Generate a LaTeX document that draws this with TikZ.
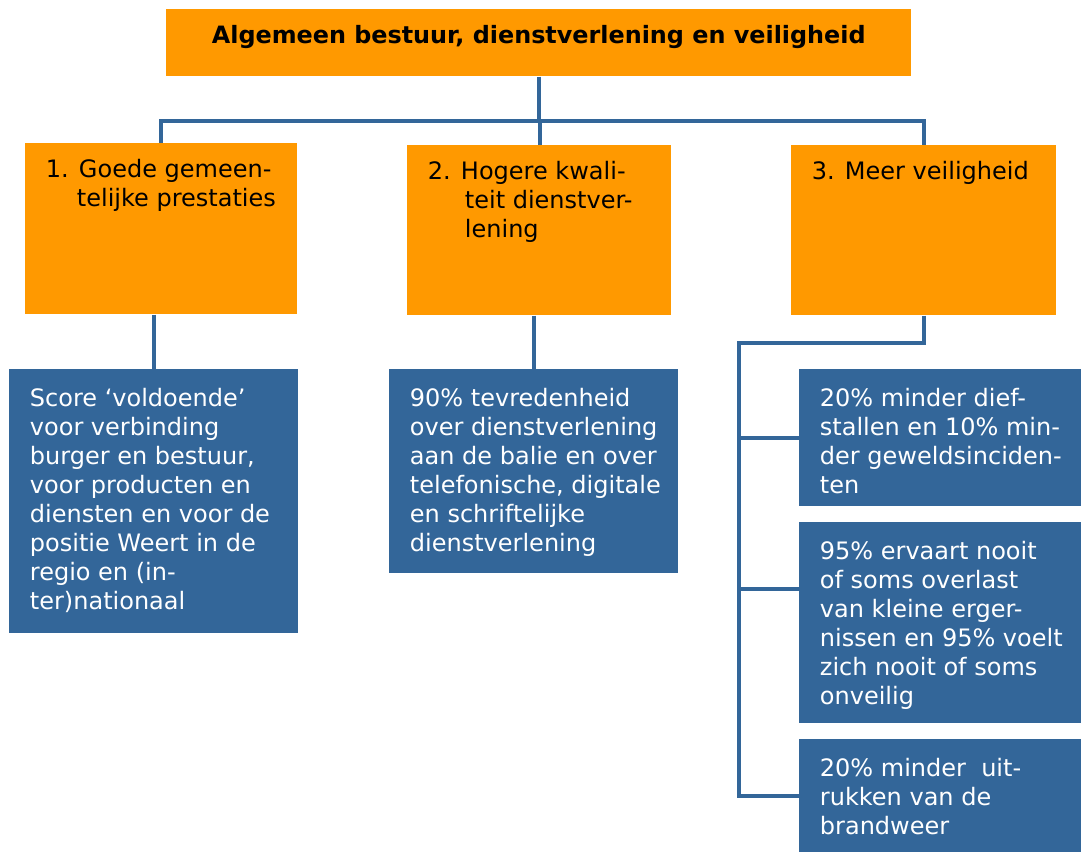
\documentclass[tikz,border=0pt]{standalone}
\usepackage{fontspec}
\setmainfont{DejaVu Sans}
\usetikzlibrary{positioning}

\definecolor{oranje}{HTML}{FF9900}
\definecolor{blauw}{HTML}{336699}

\newcommand{\vak}[3]{\parbox[t][#2][t]{#1}{\raggedright\leftskip=15.5pt #3}}

\tikzset{
  doelbox/.style={fill=oranje, anchor=north west, inner xsep=0pt, inner ysep=11.85pt,
    font=\fontsize{18pt}{21.75pt}\selectfont},
  titelbox/.style={doelbox, inner ysep=11.9pt, font=\fontsize{17.9pt}{20pt}\selectfont\bfseries},
  indbox/.style={fill=blauw, text=white, anchor=north west, inner xsep=0pt, inner ysep=14.1pt,
    font=\fontsize{18pt}{21.75pt}\selectfont},
  lijn/.style={draw=blauw, line width=3pt}
}

\begin{document}
\begin{tikzpicture}[x=0.75pt,y=-0.75pt]
\useasboundingbox (0,0) rectangle (1081,852);

\node[titelbox] (algemeen) at (166,9) {\parbox[t][26.45pt][t]{558.75pt}{\centering Algemeen bestuur, dienstverlening en veiligheid}};

\node[doelbox] (doel1) at (25,143) {\vak{204pt}{104.55pt}{1. Goede gemeen-\\ \hspace*{23.25pt}telijke prestaties}};
\node[doelbox] (doel2) at (407,145) {\vak{198pt}{103.8pt}{2. Hogere kwali-\\ \hspace*{27.75pt}teit dienstver-\\ \hspace*{27.75pt}lening}};
\node[doelbox] (doel3) at (791,145) {\vak{198.75pt}{103.8pt}{3. Meer veiligheid}};

\node[indbox] (ind1) at (9,369) {\vak{216.75pt}{169.8pt}{Score `voldoende'\\ voor verbinding\\ burger en bestuur,\\ voor producten en\\ diensten en voor de\\ positie Weert in de\\ regio en (in-\\ ter)nationaal}};
\node[indbox] (ind2) at (389,369) {\vak{216.75pt}{124.8pt}{90\% tevredenheid\\ over dienstverlening\\ aan de balie en over\\ telefonische, digitale\\ en schriftelijke\\ dienstverlening}};
\node[indbox] (ind3a) at (799,369) {\vak{212.25pt}{74.55pt}{20\% minder dief-\\ stallen en 10\% min-\\ der geweldsinciden-\\ ten}};
\node[indbox] (ind3b) at (799,522) {\vak{212.25pt}{122.55pt}{95\% ervaart nooit\\ of soms overlast\\ van kleine erger-\\ nissen en 95\% voelt\\ zich nooit of soms\\ onveilig}};
\node[indbox] (ind3c) at (799,739) {\vak{212.25pt}{56.55pt}{20\% minder\ \ uit-\\ rukken van de\\ brandweer}};

\coordinate (bus) at (540,121);
\coordinate (knik) at (739,343);
\coordinate (tak3b) at ([yshift=-50.25pt]ind3b.north west);

\draw[lijn] (algemeen.south) -- (algemeen.south |- bus);
\draw[lijn] (doel1.north) |- (bus) -| (doel3.north);
\draw[lijn] (bus) -- (bus |- doel2.north);
\draw[lijn] (doel1.south -| ind1.north) -- (ind1.north);
\draw[lijn] (doel2.south -| ind2.north) -- (ind2.north);
\draw[lijn] (doel3.south) |- (knik) -- (knik |- ind3c.west) -- (ind3c.west);
\draw[lijn] (knik |- ind3a.west) -- (ind3a.west);
\draw[lijn] (knik |- tak3b) -- (tak3b);
\end{tikzpicture}
\end{document}
